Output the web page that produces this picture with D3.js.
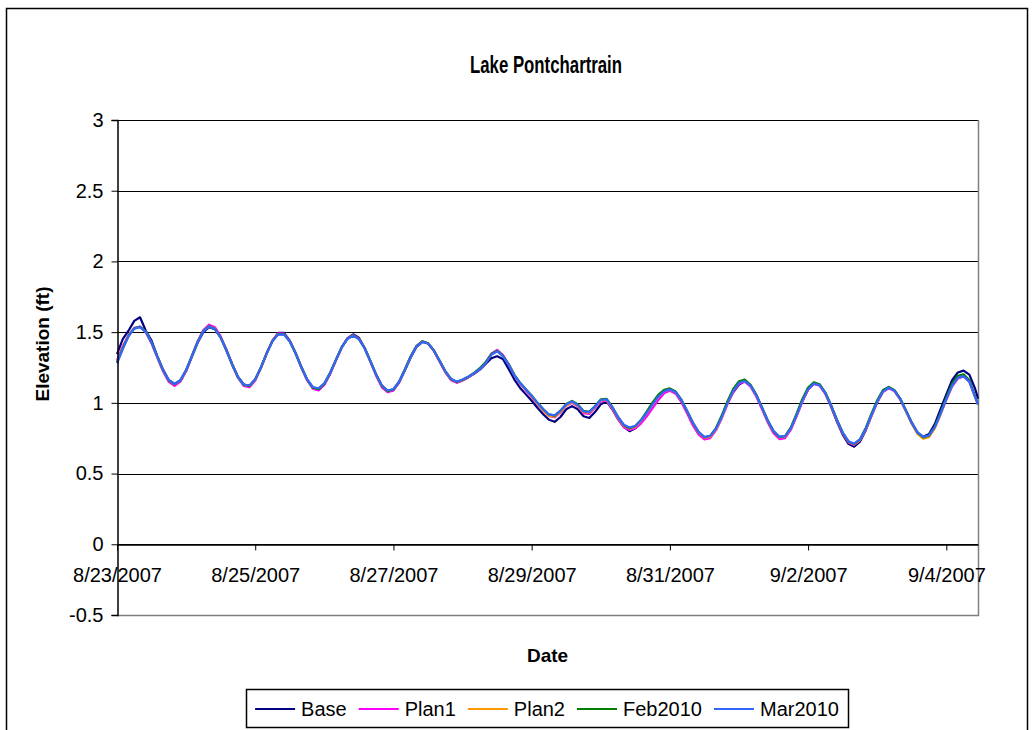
<!DOCTYPE html>
<html>
<head>
<meta charset="utf-8">
<script src="https://cdn.jsdelivr.net/npm/d3@7"></script>
<style>
  html, body { margin: 0; padding: 0; background: #fff; }
  svg { display: block; font-family: "Liberation Sans", Arial, sans-serif; }
</style>
</head>
<body>
<svg id="chart" width="1034" height="730"></svg>
<script>
// ---- Data (one reading every 2 hours from 8/23/2007 00:00, last at 9/4 11:00) ----
const chartTitle = "Lake Pontchartrain";
const xTitle = "Date";
const yTitle = "Elevation (ft)";
const seriesNames = ["Base", "Plan1", "Plan2", "Feb2010", "Mar2010"];
const seriesColors = ["#000080", "#FF00FF", "#FF9900", "#008000", "#3366FF"];
const yTicks = [-0.5, 0, 0.5, 1, 1.5, 2, 2.5, 3];
const xTickDates = ["2007-08-23", "2007-08-25", "2007-08-27", "2007-08-29", "2007-08-31", "2007-09-02", "2007-09-04"];
const sampleHours = d3.range(0, 300, 2).concat([299]);

const base = [
  1.345,1.45,1.51,1.58,1.605,1.51,1.44,1.33,1.235,1.16,1.13,1.155,
  1.225,1.325,1.425,1.5,1.535,1.52,1.465,1.375,1.275,1.185,1.13,1.12,
  1.165,1.25,1.35,1.44,1.495,1.495,1.44,1.355,1.255,1.165,1.105,1.092,
  1.13,1.205,1.3,1.39,1.455,1.485,1.46,1.39,1.295,1.2,1.12,1.08,
  1.09,1.145,1.23,1.32,1.395,1.43,1.42,1.37,1.295,1.22,1.165,1.145,
  1.16,1.18,1.205,1.235,1.275,1.315,1.33,1.31,1.24,1.165,1.105,1.06,
  1.015,0.965,0.92,0.88,0.866,0.9,0.955,0.977,0.955,0.905,0.893,0.935,
  0.99,1.01,0.955,0.885,0.83,0.8,0.82,0.865,0.925,0.99,1.045,1.085,
  1.098,1.075,1.015,0.935,0.85,0.785,0.75,0.758,0.815,0.9,1.0,1.075,
  1.13,1.152,1.125,1.055,0.962,0.868,0.792,0.752,0.757,0.815,0.91,1.012,
  1.095,1.135,1.125,1.065,0.972,0.868,0.775,0.71,0.69,0.725,0.805,0.908,
  1.005,1.08,1.107,1.087,1.028,0.945,0.858,0.79,0.76,0.78,0.85,0.955,
  1.06,1.16,1.215,1.228,1.2,1.1,1.03
];
const plan1 = [
  1.3,1.4,1.48,1.53,1.54,1.5,1.42,1.32,1.222,1.148,1.12,1.15,
  1.225,1.33,1.435,1.515,1.553,1.535,1.47,1.375,1.27,1.178,1.12,1.11,
  1.158,1.247,1.352,1.442,1.492,1.49,1.438,1.352,1.25,1.16,1.1,1.088,
  1.128,1.205,1.3,1.392,1.456,1.48,1.455,1.387,1.29,1.192,1.11,1.075,
  1.088,1.145,1.235,1.328,1.402,1.435,1.422,1.37,1.295,1.218,1.16,1.142,
  1.158,1.18,1.208,1.24,1.285,1.348,1.375,1.34,1.275,1.195,1.135,1.088,
  1.04,0.99,0.945,0.906,0.898,0.932,0.98,1.0,0.975,0.928,0.922,0.965,
  1.01,1.015,0.958,0.885,0.828,0.808,0.82,0.855,0.905,0.962,1.02,1.068,
  1.085,1.065,1.005,0.925,0.84,0.775,0.742,0.75,0.805,0.89,0.99,1.078,
  1.136,1.15,1.115,1.045,0.955,0.862,0.785,0.744,0.75,0.81,0.905,1.008,
  1.092,1.134,1.122,1.064,0.975,0.873,0.782,0.72,0.702,0.735,0.81,0.908,
  1.003,1.077,1.104,1.082,1.022,0.938,0.852,0.783,0.752,0.765,0.825,0.92,
  1.022,1.115,1.172,1.186,1.148,1.04,0.99
];
const plan2 = [
  1.29,1.39,1.475,1.528,1.538,1.502,1.424,1.325,1.229,1.158,1.132,1.158,
  1.23,1.33,1.43,1.508,1.542,1.525,1.462,1.37,1.27,1.181,1.127,1.12,
  1.165,1.25,1.35,1.438,1.487,1.486,1.436,1.352,1.254,1.165,1.108,1.098,
  1.135,1.21,1.3,1.39,1.453,1.477,1.452,1.386,1.293,1.198,1.12,1.084,
  1.095,1.15,1.236,1.328,1.4,1.434,1.421,1.371,1.298,1.223,1.167,1.147,
  1.162,1.183,1.21,1.242,1.283,1.343,1.368,1.333,1.272,1.195,1.138,1.092,
  1.045,0.993,0.946,0.908,0.902,0.936,0.983,1.004,0.98,0.934,0.93,0.97,
  1.016,1.021,0.965,0.894,0.838,0.818,0.832,0.872,0.927,0.988,1.043,1.082,
  1.095,1.074,1.018,0.94,0.856,0.789,0.753,0.76,0.811,0.895,0.996,1.085,
  1.143,1.156,1.122,1.053,0.964,0.872,0.797,0.756,0.761,0.818,0.912,1.015,
  1.098,1.138,1.126,1.069,0.98,0.879,0.788,0.725,0.706,0.737,0.813,0.912,
  1.007,1.081,1.108,1.086,1.025,0.941,0.853,0.781,0.746,0.758,0.82,0.918,
  1.025,1.12,1.179,1.192,1.152,1.042,0.99
];
const feb2010 = [
  1.285,1.385,1.473,1.527,1.537,1.503,1.426,1.327,1.23,1.158,1.133,1.16,
  1.232,1.332,1.432,1.508,1.541,1.523,1.461,1.37,1.27,1.182,1.128,1.12,
  1.166,1.252,1.352,1.438,1.486,1.485,1.435,1.351,1.254,1.166,1.108,1.097,
  1.136,1.212,1.303,1.392,1.454,1.477,1.452,1.386,1.294,1.199,1.12,1.083,
  1.096,1.152,1.238,1.33,1.402,1.435,1.422,1.372,1.3,1.225,1.168,1.148,
  1.163,1.185,1.212,1.245,1.287,1.345,1.368,1.333,1.273,1.198,1.142,1.097,
  1.052,1.002,0.956,0.918,0.91,0.945,0.992,1.014,0.99,0.943,0.937,0.978,
  1.024,1.029,0.972,0.9,0.842,0.82,0.836,0.88,0.94,1.003,1.058,1.092,
  1.102,1.08,1.022,0.943,0.859,0.792,0.757,0.766,0.822,0.91,1.012,1.098,
  1.153,1.164,1.128,1.058,0.968,0.875,0.8,0.759,0.765,0.826,0.924,1.028,
  1.108,1.146,1.132,1.073,0.983,0.881,0.79,0.727,0.709,0.742,0.822,0.924,
  1.018,1.091,1.113,1.09,1.029,0.946,0.86,0.789,0.756,0.77,0.832,0.93,
  1.038,1.135,1.192,1.202,1.16,1.045,0.99
];
const mar2010 = [
  1.28,1.38,1.47,1.525,1.535,1.502,1.426,1.327,1.231,1.161,1.135,1.161,
  1.232,1.33,1.429,1.506,1.539,1.522,1.461,1.37,1.27,1.183,1.13,1.123,
  1.167,1.251,1.35,1.436,1.484,1.483,1.434,1.351,1.254,1.167,1.112,1.102,
  1.138,1.211,1.301,1.39,1.452,1.475,1.451,1.386,1.294,1.2,1.123,1.087,
  1.097,1.151,1.236,1.327,1.399,1.432,1.42,1.371,1.299,1.225,1.17,1.15,
  1.165,1.185,1.21,1.24,1.28,1.34,1.365,1.33,1.27,1.195,1.14,1.095,
  1.05,1.0,0.955,0.918,0.912,0.945,0.99,1.01,0.985,0.94,0.935,0.975,
  1.02,1.025,0.97,0.9,0.845,0.825,0.838,0.876,0.93,0.99,1.044,1.082,
  1.095,1.075,1.02,0.943,0.861,0.795,0.76,0.766,0.816,0.899,0.998,1.085,
  1.141,1.154,1.122,1.054,0.966,0.875,0.801,0.761,0.765,0.82,0.912,1.014,
  1.096,1.136,1.125,1.069,0.981,0.881,0.791,0.729,0.711,0.741,0.816,0.914,
  1.008,1.081,1.107,1.086,1.027,0.945,0.86,0.791,0.759,0.77,0.828,0.922,
  1.026,1.12,1.177,1.189,1.15,1.04,0.99
];
const seriesValues = [base, plan1, plan2, feb2010, mar2010];

// ---- Layout ----
const W = 1034, H = 730;
const plot = { left: 117, right: 978, top: 120, bottom: 615 };
const fontSize = 20;
const fontFamily = "'Liberation Sans', Arial, sans-serif";

const svg = d3.select("#chart");
svg.append("rect").attr("width", W).attr("height", H).attr("fill", "#fff");
// chart area border
svg.append("rect").attr("x", 6.5).attr("y", 8.5).attr("width", 1021).attr("height", 740)
  .attr("fill", "none").attr("stroke", "#000").attr("stroke-width", 1.5);

const start = new Date(2007, 7, 23, 0, 0, 0);
const times = sampleHours.map(h => d3.timeHour.offset(start, h));
const x = d3.scaleTime()
  .domain([start, d3.timeHour.offset(start, 299)])
  .range([plot.left, plot.right]);
const y = d3.scaleLinear().domain([-0.5, 3]).range([plot.bottom, plot.top]);

// gridlines
svg.append("g").selectAll("line").data(yTicks.filter(v => v > -0.5)).join("line")
  .attr("x1", plot.left).attr("x2", plot.right)
  .attr("y1", d => Math.round(y(d)) + 0.5).attr("y2", d => Math.round(y(d)) + 0.5)
  .attr("stroke", "#000").attr("stroke-width", 1);

// plot area border (right and bottom)
svg.append("path")
  .attr("d", `M${plot.right + 0.5},${plot.top}V${Math.round(plot.bottom) + 0.5}H${plot.left}`)
  .attr("fill", "none").attr("stroke", "#808080").attr("stroke-width", 1.5);

// lines
const line = d3.line().x((d, i) => x(times[i])).y(d => y(d));
svg.append("g").selectAll("path").data(seriesValues).join("path")
  .attr("d", d => line(d))
  .attr("fill", "none")
  .attr("stroke", (d, i) => seriesColors[i])
  .attr("stroke-width", 2.2)
  .attr("stroke-linejoin", "round");

// y axis
const yAxis = d3.axisLeft(y).tickValues(yTicks).tickSize(6).tickPadding(8)
  .tickFormat(d => String(d));
const gy = svg.append("g").attr("transform", `translate(${plot.left + 0.5},0)`).call(yAxis);
gy.select(".domain").attr("stroke", "#000").attr("stroke-width", 1.5);
gy.selectAll(".tick line").attr("stroke", "#000");
gy.selectAll("text").attr("font-size", fontSize).attr("fill", "#000").attr("font-family", fontFamily);

// x axis (crosses at y = 0)
const parseDay = d3.timeParse("%Y-%m-%d");
const xAxis = d3.axisBottom(x).tickValues(xTickDates.map(parseDay))
  .tickSize(6).tickSizeOuter(0).tickPadding(17)
  .tickFormat(d3.timeFormat("%-m/%-d/%Y"));
const gx = svg.append("g").attr("transform", `translate(0,${Math.round(y(0)) + 0.5})`).call(xAxis);
gx.select(".domain").attr("stroke", "#000").attr("stroke-width", 1.5);
gx.selectAll(".tick line").attr("stroke", "#000");
gx.selectAll("text").attr("font-size", fontSize).attr("fill", "#000").attr("font-family", fontFamily);

// titles
svg.append("text")
  .attr("transform", `translate(546,73) scale(0.7,1)`)
  .attr("text-anchor", "middle")
  .attr("font-size", 24).attr("font-weight", "bold").text(chartTitle);
svg.append("text").attr("x", (plot.left + plot.right) / 2).attr("y", 662).attr("text-anchor", "middle")
  .attr("font-size", 19).attr("font-weight", "bold").text(xTitle);
svg.append("text")
  .attr("transform", `translate(49,344) rotate(-90)`)
  .attr("text-anchor", "middle").attr("font-size", 19).attr("font-weight", "bold").text(yTitle);

// legend
const legendBox = svg.append("rect");
const lg = svg.append("g");
const lineLen = 40, gapAfterLine = 6, gapAfterText = 12;
let cx = 0;
seriesNames.forEach((name, i) => {
  const g = lg.append("g");
  g.append("line").attr("x1", cx).attr("x2", cx + lineLen).attr("y1", 0).attr("y2", 0)
    .attr("stroke", seriesColors[i]).attr("stroke-width", 2);
  const t = g.append("text").attr("x", cx + lineLen + gapAfterLine).attr("y", 7)
    .attr("font-size", fontSize).attr("fill", "#000").text(name);
  cx += lineLen + gapAfterLine + t.node().getComputedTextLength() + gapAfterText;
});
const legendW = cx - gapAfterText + 18;
const legendX = 547 - legendW / 2;
lg.attr("transform", `translate(${legendX + 9},709)`);
legendBox
  .attr("x", Math.round(legendX) + 0.5).attr("y", 689.5)
  .attr("width", Math.round(legendW)).attr("height", 38)
  .attr("fill", "#fff").attr("stroke", "#000").attr("stroke-width", 1.5);
</script>
</body>
</html>
